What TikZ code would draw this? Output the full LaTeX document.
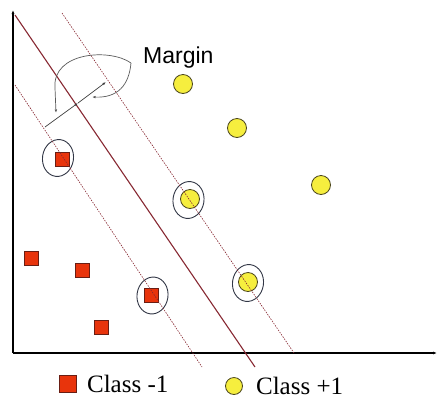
\documentclass[tikz,border=0pt]{standalone}
\usepackage{fontspec}
\usepackage{xcolor}
\usepackage{tikz}
\usetikzlibrary{arrows.meta,positioning,shapes.geometric}
\newfontfamily\marginfont{Liberation Sans}
\newfontfamily\legendfont{Liberation Serif}
\definecolor{sqFill}{RGB}{232,52,12}
\definecolor{sqEdge}{RGB}{105,30,20}
\definecolor{dotFill}{RGB}{246,238,62}
\definecolor{dotEdge}{RGB}{75,70,30}
\definecolor{lineRed}{RGB}{135,40,50}
\definecolor{ringGray}{RGB}{50,55,70}
\tikzset{
  negsq/.style={rectangle, draw=sqEdge, fill=sqFill, line width=0.8pt, minimum size=14pt, inner sep=0pt},
  posdot/.style={circle, draw=dotEdge, fill=dotFill, line width=0.8pt, minimum size=19pt, inner sep=0pt},
  svring/.style={ellipse, draw=ringGray, line width=0.9pt, minimum width=31pt, minimum height=37pt, inner sep=0pt},
  axisline/.style={-{Latex[length=4pt]}, line width=1.6pt},
  hyperline/.style={draw=lineRed, line width=1.1pt},
  margline/.style={draw=lineRed, line width=0.6pt, dash pattern=on 1.5pt off 1.2pt},
  marrow/.style={-{Latex[length=3.5pt]}, line width=0.7pt, draw=black!75},
  callout/.style={-{Latex[length=3.5pt]}, line width=0.7pt, draw=black!65},
  legtext/.style={font=\legendfont\fontsize{25}{29}\selectfont, inner sep=0pt}
}

\begin{document}
\begin{tikzpicture}[x=1pt, y=-1pt]
  \useasboundingbox (0,0) rectangle (439,405);
  % axes
  \coordinate (origin) at (13,353);
  \coordinate (ytop) at (13,10);
  \coordinate (xend) at (437,353);
  \draw[axisline] (origin) -- (ytop);
  \draw[axisline] (origin) -- (xend);
  % class -1
  \node[negsq] (n1) at (62,159) {};
  \node[negsq] (n2) at (31.5,258) {};
  \node[negsq] (n3) at (82,270) {};
  \node[negsq] (n4) at (151.5,295) {};
  \node[negsq] (n5) at (101,327) {};
  % class +1
  \node[posdot] (p1) at (183,84) {};
  \node[posdot] (p2) at (237,128) {};
  \node[posdot] (p3) at (321,185) {};
  \node[posdot] (p4) at (190,199) {};
  \node[posdot] (p5) at (248,282) {};
  % support vectors
  \node[svring, rotate=-8] (s1) at (58,158) {};
  \node[svring, rotate=-8] (s2) at (152.5,295.5) {};
  \node[svring, rotate=-8] (s3) at (188.5,200) {};
  \node[svring, rotate=-8] (s4) at (248,283) {};
  % separating line and margins
  \coordinate (h1) at (15,15);
  \coordinate (h2) at (255,367);
  \coordinate (l1) at (15,85);
  \coordinate (l2) at (202,367);
  \coordinate (r1) at (62,13);
  \coordinate (r2) at (294,353);
  \draw[hyperline] (h1) -- (h2);
  \draw[margline] (l1) -- (l2);
  \draw[margline] (r1) -- (r2);
  % margin width
  \coordinate (mleft) at (45,127);
  \coordinate (mmid) at (78,103);
  \coordinate (mright) at (106,82);
  \draw[marrow] (mleft) -- (mmid);
  \draw[marrow] (mmid) -- (mright);
  \node[font=\marginfont\fontsize{23}{27}\selectfont, anchor=base west, inner sep=0pt] (margin) at (143,63) {Margin};
  \coordinate (mroot) at (131,63);
  \draw[callout] (mroot) .. controls (110,48) and (52,52) .. (55,88) -- (56,113);
  \draw[callout] (mroot) .. controls (129,85) and (118,98) .. (92,97);
  % legend
  \node[negsq, minimum size=17pt] (negkey) at (68,384) {};
  \node[legtext, right=10pt of negkey] (negtext) {Class -1};
  \node[posdot, minimum size=17pt] (poskey) at (234,386) {};
  \node[legtext, right=13pt of poskey] (postext) {Class +1};
\end{tikzpicture}
\end{document}
